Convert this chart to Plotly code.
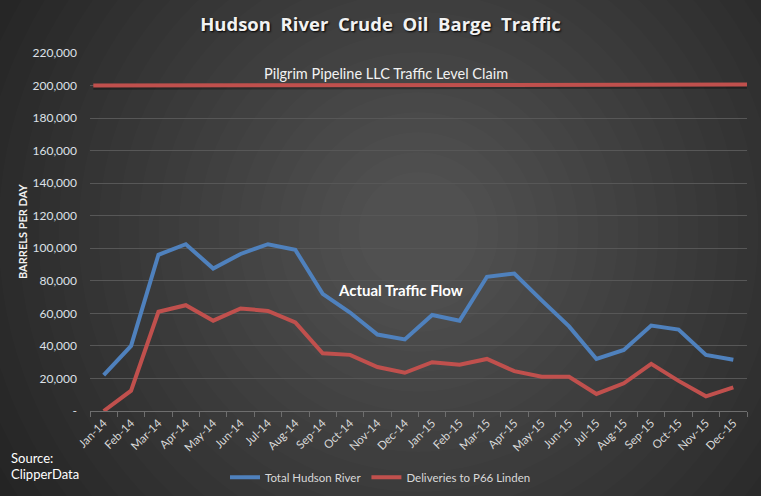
import plotly.graph_objects as go

''' Datos '''
meses = ['Jan-14', 'Feb-14', 'Mar-14', 'Apr-14', 'May-14', 'Jun-14', 'Jul-14', 'Aug-14',
         'Sep-14', 'Oct-14', 'Nov-14', 'Dec-14', 'Jan-15', 'Feb-15', 'Mar-15', 'Apr-15',
         'May-15', 'Jun-15', 'Jul-15', 'Aug-15', 'Sep-15', 'Oct-15', 'Nov-15', 'Dec-15']

total_hudson = [22000, 40000, 96000, 102500, 87500, 96500, 102500, 99000,
                72000, 60500, 47000, 44000, 59000, 55500, 82500, 84500,
                68000, 52000, 32000, 37500, 52500, 50000, 34500, 31500]

p66_linden = [0, 12500, 61000, 65000, 55500, 63000, 61500, 54500,
              35500, 34500, 27000, 23500, 30000, 28500, 32000, 24500,
              21000, 21000, 10500, 17000, 29000, 18500, 9000, 14500]

nivel_pilgrim = 200000

y_ticks = [0, 20000, 40000, 60000, 80000, 100000, 120000, 140000,
           160000, 180000, 200000, 220000]
y_tick_labels = ['-', '20,000', '40,000', '60,000', '80,000', '100,000', '120,000',
                 '140,000', '160,000', '180,000', '200,000', '220,000']

azul = '#4f81bd'
rojo = '#c0504d'
fuente = 'Lato'

fig = go.Figure()
fig.add_trace(go.Scatter(x=meses, y=total_hudson, mode='lines', name='Total Hudson River',
                         line=dict(color=azul, width=4), cliponaxis=False))
fig.add_trace(go.Scatter(x=meses, y=p66_linden, mode='lines', name='Deliveries to P66 Linden',
                         line=dict(color=rojo, width=4), cliponaxis=False))

''' Fondo con gradiente radial (circulos superpuestos) '''
shapes = []
cx, cy = 0.5, 0.5
n = 26
for i in range(n):
    r = 560 - i * 20
    shapes.append(dict(type='circle', xref='paper', yref='paper', layer='below',
                       x0=cx - r / 657, x1=cx + r / 657,
                       y0=cy - r / 358, y1=cy + r / 358,
                       fillcolor='rgba(255,255,255,0.01)', line=dict(width=0)))

''' Linea del nivel de Pilgrim '''
shapes.append(dict(type='line', xref='paper', yref='y', x0=0.005, x1=1,
                   y0=nivel_pilgrim - 1300, y1=nivel_pilgrim - 700,
                   line=dict(color='rgba(0,0,0,0.3)', width=4), layer='above'))
shapes.append(dict(type='line', xref='paper', yref='y', x0=0.005, x1=1,
                   y0=nivel_pilgrim, y1=nivel_pilgrim + 600,
                   line=dict(color=rojo, width=4), layer='above'))

fig.update_layout(
    width=761, height=496,
    margin=dict(l=90, r=14, t=53, b=85, autoexpand=False),
    paper_bgcolor='#1c1c1c',
    plot_bgcolor='rgba(0,0,0,0)',
    font=dict(family=fuente, color='#d9d9d9', size=11),
    shapes=shapes,
    title=dict(text='Hudson\u00a0\u00a0River\u00a0\u00a0Crude\u00a0\u00a0Oil\u00a0\u00a0Barge\u00a0\u00a0Traffic',
               x=0.5, xref='container', xanchor='center', y=0.95, yanchor='middle',
               font=dict(family='Open Sans', size=18.5, color='#f2f2f2', weight='bold',
                         shadow='1px 1px 2px #000')),
    xaxis=dict(type='category', range=[-0.5, 23.5], tickangle=-45, tickson='boundaries',
               ticks='outside', ticklen=5, tickcolor='#6e6e6e', showline=True,
               linecolor='#6e6e6e', showgrid=False, automargin=False,
               tickfont=dict(size=11.5, color='#d9d9d9')),
    yaxis=dict(range=[0, 220000], tickvals=y_ticks, ticktext=y_tick_labels,
               showgrid=True, gridcolor='#575757', gridwidth=1, zeroline=False,
               ticks='', ticklabelstandoff=12, automargin=False,
               tickfont=dict(size=12, color='#dde1e8')),
    legend=dict(orientation='h', xref='container', yref='container', x=0.5, xanchor='center',
                y=0.038, yanchor='middle', font=dict(size=11.5, color='#d9d9d9'),
                bgcolor='rgba(0,0,0,0)'),
    annotations=[
        dict(text='<b>BARRELS PER DAY</b>', xref='paper', yref='paper', x=-0.1035, y=0.5,
             xanchor='center', yanchor='middle',
             textangle=-90, showarrow=False, font=dict(size=11, color='#f2f2f2')),
        dict(text='Pilgrim Pipeline LLC Traffic Level Claim', xref='paper', yref='y',
             x=0.45, y=nivel_pilgrim, yshift=12, showarrow=False,
             font=dict(size=14.5, color='#f2f2f2')),
        dict(text='<b>Actual Traffic Flow</b>', xref='x', yref='y', x=10.85, y=74500,
             showarrow=False, font=dict(size=15, color='#ffffff')),
        dict(text='Source:', xref='paper', yref='paper', x=-0.1233, y=-0.1313,
             xanchor='left', yanchor='middle', showarrow=False,
             font=dict(size=13, color='#ffffff')),
        dict(text='ClipperData', xref='paper', yref='paper', x=-0.1233, y=-0.176,
             xanchor='left', yanchor='middle', showarrow=False,
             font=dict(size=13, color='#ffffff')),
    ],
)

fig.write_html("out.html", config={'displayModeBar': False},
               post_script="document.body.style.margin='0';")
